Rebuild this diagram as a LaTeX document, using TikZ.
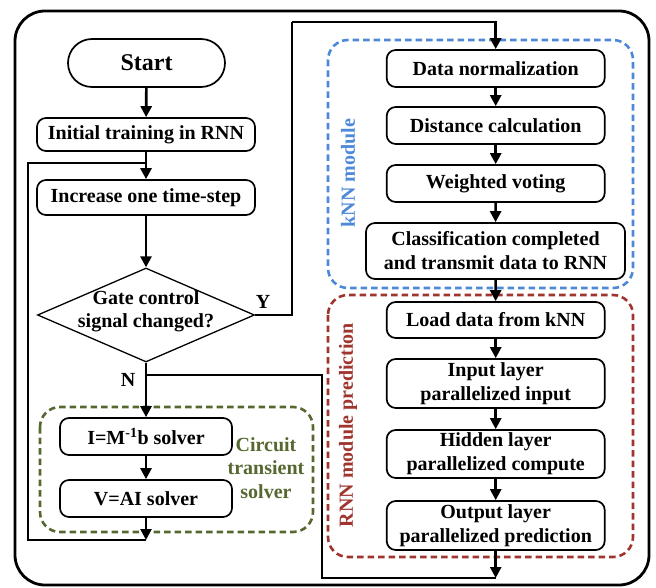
\documentclass[tikz,border=0pt]{standalone}
\usepackage{fontspec}
\setmainfont{Liberation Serif}
\usetikzlibrary{shapes.geometric,arrows.meta}
\definecolor{knnblue}{RGB}{78,137,216}
\definecolor{rnnred}{RGB}{160,52,46}
\definecolor{solvgreen}{RGB}{86,104,48}
\tikzset{
  txt/.style={font=\bfseries\fontsize{20}{24}\selectfont},
  proc/.style={txt, draw, rounded corners=9pt, line width=1.7pt, align=center, inner sep=0pt},
  flow/.style={line width=2.6pt, -{Triangle[length=11pt,width=11pt]}},
  link/.style={line width=2.6pt},
  group/.style={dash pattern=on 6.5pt off 4pt, line width=2.6pt, rounded corners=20pt},
}
\begin{document}
\begin{tikzpicture}[x=1pt,y=-1pt]
\useasboundingbox (0,0) rectangle (656,588);
% outer frame
\draw[line width=2.8pt, rounded corners=30pt] (15,11) rectangle (649,585);

% dashed module frames
\draw[group, knnblue] (328,40) rectangle (633,288);
\draw[group, rnnred] (328,295) rectangle (633,557);
\draw[group, solvgreen] (40,407) rectangle (313,532);
\node[txt, knnblue, rotate=90] (knnlab) at (348,173) {kNN module};
\node[txt, rnnred, rotate=90] (rnnlab) at (348,425) {RNN module prediction};
\node[txt, solvgreen, align=center, font=\bfseries\fontsize{20}{23.5}\selectfont] (cirlab) at (266,468) {Circuit\\transient\\solver};

% left column
\node[proc, rounded corners=24pt, minimum width=157pt, minimum height=48pt, font=\bfseries\fontsize{24}{28}\selectfont] (start) at (146.5,63) {Start};
\node[proc, minimum width=218pt, minimum height=33pt] (init) at (146,134.5) {Initial training in RNN};
\node[proc, minimum width=218pt, minimum height=35pt] (inc) at (146,197.5) {Increase one time-step};
\node[draw, diamond, line width=1.3pt, minimum width=217pt, minimum height=94pt, inner sep=0pt] (gate) at (146,315) {};
\node[txt, align=center, font=\bfseries\fontsize{20}{23}\selectfont] (gatetxt) at (146,311.5) {Gate control\\signal changed?};
\node[proc, minimum width=172pt, minimum height=37pt] (isol) at (146,436.5) {I=M\textsuperscript{-1}b solver};
\node[proc, minimum width=172pt, minimum height=37pt] (vsol) at (146,498.5) {V=AI solver};
\node[txt] (ylab) at (263,302) {Y};
\node[txt] (nlab) at (128,380) {N};

% right column
\node[proc, minimum width=218pt, minimum height=37pt] (dn) at (495.7,68.5) {Data normalization};
\node[proc, minimum width=218pt, minimum height=37pt] (dc) at (495.7,125.5) {Distance calculation};
\node[proc, minimum width=218pt, minimum height=37pt] (wv) at (495.7,183.5) {Weighted voting};
\node[proc, minimum width=259pt, minimum height=56pt] (cc) at (495.5,251) {Classification completed\\and transmit data to RNN};
\node[proc, minimum width=218pt, minimum height=36pt] (ld) at (495.7,320) {Load data from kNN};
\node[proc, minimum width=218pt, minimum height=49pt] (il) at (495.7,383.5) {Input layer\\parallelized input};
\node[proc, minimum width=218pt, minimum height=48pt] (hl) at (495.7,454) {Hidden layer\\parallelized compute};
\node[proc, minimum width=218pt, minimum height=49pt] (ol) at (495.7,525.5) {Output layer\\parallelized prediction};

% junction points
\coordinate (lfork) at (146,163);
\coordinate (vjoin) at (146,540);
\coordinate (lbot) at (28,540);
\coordinate (yturn) at (292,22);
\coordinate (nfork) at (146,375);
\coordinate (rbot) at (322,578);
\coordinate (ojoin) at (495.7,578);

% connectors, left
\draw[flow] (start) -- (init);
\draw[flow] (init) -- (inc);
\draw[flow] (inc) -- (gate.north);
\draw[flow] (gate.south) -- (isol);
\draw[flow] (isol) -- (vsol);
\draw[flow] (vsol) -- (vjoin);
\draw[link] (vjoin) -- (lbot) |- (lfork);
\draw[link] (gate.east) -| (yturn);
\draw[flow] (yturn) -| (dn.north);
\draw[link] (nfork) -| (rbot) -- (ojoin);

% connectors, right
\draw[flow] (dn) -- (dc);
\draw[flow] (dc) -- (wv);
\draw[flow] (wv) -- (cc);
\draw[flow] (cc) -- (ld);
\draw[flow] (ld) -- (il);
\draw[flow] (il) -- (hl);
\draw[flow] (hl) -- (ol);
\draw[flow] (ol) -- (ojoin);
\end{tikzpicture}
\end{document}
